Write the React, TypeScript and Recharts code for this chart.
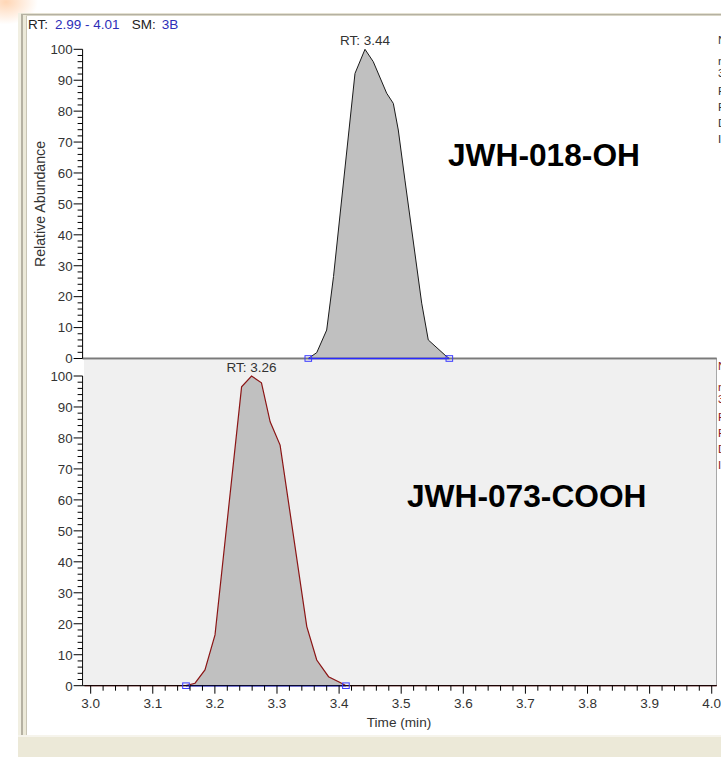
import React from 'react';
import {
  ComposedChart,
  Area,
  Line,
  XAxis,
  YAxis,
  ReferenceLine,
  ReferenceDot,
} from 'recharts';

const FONT = '"Liberation Sans", Arial, sans-serif';

// JWH-018-OH trace (time in min, relative abundance %)
const topTimes = [3.3504, 3.364, 3.380, 3.391, 3.4256, 3.4417, 3.455, 3.4766, 3.4873, 3.4953, 3.506, 3.533, 3.5436, 3.5705, 3.5775];
const topAbund = [0, 1.9, 9.2, 26.5, 92.2, 100, 96, 85.8, 82.5, 73.9, 57.7, 17.9, 6.0, 1.1, 0];
const topBaseline = [3.3504, 3.5775];

// JWH-073-COOH trace
const botTimes = [2.99, 3.1535, 3.168, 3.184, 3.2002, 3.243, 3.259, 3.275, 3.289, 3.305, 3.348, 3.364, 3.383, 3.404, 3.411, 4.01];
const botAbund = [0, 0, 0.8, 5.1, 16.4, 96.5, 100, 97.8, 85.2, 77.7, 19.1, 8.3, 2.9, 0.8, 0, 0];
const botBaseline = [3.1535, 3.411];

const peakNames = ['JWH-018-OH', 'JWH-073-COOH'];
const rtLabels = ['RT: 3.44', 'RT: 3.26'];

const xLabels = ['3.0', '3.1', '3.2', '3.3', '3.4', '3.5', '3.6', '3.7', '3.8', '3.9', '4.0'];
const yLabels = [0, 10, 20, 30, 40, 50, 60, 70, 80, 90, 100];

// legend lines at the right edge, cut off by the window
const sideLines = ['NL: 3.71E5', 'm/z= 358.00-359.00', '3', 'F: + c ESI SRM', 'F', 'D', 'I'];
const sideOffsets = [0, 21, 33, 51, 67, 83, 99];

const xDomain = [2.987, 4.008];
const xTicks: number[] = [];
xLabels.forEach((l, i) => {
  const v = parseFloat(l);
  xTicks.push(v);
  if (i < xLabels.length - 1) for (let k = 1; k < 5; k++) xTicks.push(+(v + k * 0.02).toFixed(2));
});
const yTicks: number[] = [];
yLabels.forEach((v, i) => {
  yTicks.push(v);
  if (i < yLabels.length - 1) for (let k = 1; k < 5; k++) yTicks.push(v + k * 2);
});

const topData = topTimes.map((t, i) => ({ t, v: topAbund[i] }));
const botData = botTimes.map((t, i) => ({ t, v: botAbund[i] }));
const topBase = topBaseline.map((t) => ({ t, b: 0 }));
const botBase = botBaseline.map((t) => ({ t, b: 0 }));

const apex = (d: { t: number; v: number }[]) => d.reduce((a, b) => (b.v > a.v ? b : a));

const YTick = (props: any) => {
  const { x, y, payload } = props;
  const major = payload.value % 10 === 0;
  const ax = x + 10;
  return (
    <g>
      <line x1={ax - (major ? 9 : 5)} x2={ax} y1={y} y2={y} stroke="#000" />
      {major && (
        <text x={x} y={y} dy={4.8} textAnchor="end" fontSize={13.3} fill="#333" fontFamily={FONT}>
          {payload.value}
        </text>
      )}
    </g>
  );
};

const XTick = (props: any) => {
  const { x, y, index } = props;
  const major = index % 5 === 0;
  const ay = y - 10;
  return (
    <g>
      <line x1={x} x2={x} y1={ay} y2={ay + (major ? 8 : 5)} stroke="#000" />
      {major && (
        <text x={x} y={ay + 22} textAnchor="middle" fontSize={13.5} fill="#333" fontFamily={FONT}>
          {xLabels[index / 5]}
        </text>
      )}
    </g>
  );
};

const SquareDot = (props: any) => {
  const { cx, cy } = props;
  return <rect x={cx - 3.3} y={cy - 2.8} width={6.6} height={5.6} fill="none" stroke="#3a3aff" strokeWidth={1} />;
};

export default function App() {
  const topApex = apex(topData);
  const botApex = apex(botData);
  return (
    <div
      style={{
        position: 'absolute',
        left: 0,
        top: 0,
        width: 721,
        height: 757,
        overflow: 'hidden',
        background: '#fff',
        fontFamily: FONT,
      }}
    >
      {/* window chrome */}
      <div
        style={{
          position: 'absolute', left: 0, top: 0, width: 60, height: 40,
          background: 'radial-gradient(ellipse at 6px 2px, rgba(255,180,120,0.55), rgba(255,255,255,0) 32px)',
        }}
      />
      <div style={{ position: 'absolute', left: 18, top: 13, width: 3, height: 724, background: '#F1EFE2' }} />
      <div style={{ position: 'absolute', left: 21, top: 13, width: 2, height: 724, background: '#B5B1A2' }} />
      <div style={{ position: 'absolute', left: 23, top: 13, width: 3, height: 724, background: '#ECE9D8' }} />
      <div style={{ position: 'absolute', left: 26, top: 15, width: 1, height: 722, background: '#C9C5B5' }} />
      <div style={{ position: 'absolute', left: 21, top: 13, width: 700, height: 1, background: '#E4E1D2' }} />
      <div style={{ position: 'absolute', left: 21, top: 14, width: 700, height: 1, background: '#B5B1A2' }} />
      <div style={{ position: 'absolute', left: 26, top: 15, width: 695, height: 1, background: '#D8D5C6' }} />
      <div style={{ position: 'absolute', left: 18, top: 735, width: 703, height: 2, background: '#F6F4EC' }} />
      <div style={{ position: 'absolute', left: 18, top: 737, width: 703, height: 20, background: '#ECE9D8' }} />

      {/* lower panel background */}
      <div style={{ position: 'absolute', left: 84, top: 359.5, width: 631.7, height: 326.5, background: '#F0F0F0' }} />
      <div style={{ position: 'absolute', left: 715.5, top: 358, width: 1, height: 328, background: '#A8A8A8' }} />

      <div style={{ position: 'absolute', left: 0, top: 0 }}>
        <ComposedChart width={721} height={372} data={topData} margin={{ top: 49.3, right: 4.3, bottom: 13.5, left: 0 }}>
          <XAxis type="number" dataKey="t" domain={xDomain} hide allowDataOverflow />
          <YAxis
            type="number"
            domain={[0, 100]}
            ticks={yTicks}
            interval={0}
            width={82.6}
            tickSize={9}
            tickMargin={1}
            tickLine={false}
            axisLine={{ stroke: '#000' }}
            tick={<YTick />}
          />
          <ReferenceLine y={0} stroke="#7a7a7a" strokeWidth={2} />
          <Area
            type="linear"
            dataKey="v"
            stroke="#1a1a1a"
            strokeWidth={1}
            fill="#C0C0C0"
            fillOpacity={1}
            dot={false}
            activeDot={false}
            isAnimationActive={false}
          />
          <Line
            data={topBase}
            dataKey="b"
            stroke="#2a2aff"
            strokeWidth={1.5}
            dot={<SquareDot />}
            activeDot={false}
            isAnimationActive={false}
          />
          <ReferenceDot
            x={topApex.t}
            y={topApex.v}
            r={0}
            label={{ value: rtLabels[0], position: 'top', offset: 4, fontSize: 13.5, fill: '#333', fontFamily: FONT }}
          />
        </ComposedChart>
      </div>

      <div style={{ position: 'absolute', left: 0, top: 350 }}>
        <ComposedChart width={721} height={407} data={botData} margin={{ top: 26, right: 4.3, bottom: 31.3, left: 0 }}>
          <XAxis
            type="number"
            dataKey="t"
            domain={xDomain}
            allowDataOverflow
            ticks={xTicks}
            interval={0}
            height={40}
            tickSize={8}
            tickMargin={2}
            tickLine={false}
            axisLine={{ stroke: '#000' }}
            tick={<XTick />}
          />
          <YAxis
            type="number"
            domain={[0, 100]}
            ticks={yTicks}
            interval={0}
            width={82.6}
            tickSize={9}
            tickMargin={1}
            tickLine={false}
            axisLine={{ stroke: '#000' }}
            tick={<YTick />}
          />
          <Area
            type="linear"
            dataKey="v"
            stroke="#8B1515"
            strokeWidth={1.2}
            fill="#C0C0C0"
            fillOpacity={1}
            dot={false}
            activeDot={false}
            isAnimationActive={false}
          />
          <Line
            data={botBase}
            dataKey="b"
            stroke="#2a2aff"
            strokeWidth={1.5}
            dot={<SquareDot />}
            activeDot={false}
            isAnimationActive={false}
          />
          <ReferenceDot
            x={botApex.t}
            y={botApex.v}
            r={0}
            label={{ value: rtLabels[1], position: 'top', offset: 4, fontSize: 13.5, fill: '#333', fontFamily: FONT }}
          />
        </ComposedChart>
      </div>

      {/* text overlay */}
      <svg width={721} height={757} style={{ position: 'absolute', left: 0, top: 0, pointerEvents: 'none' }} fontFamily={FONT}>
        <text x={28} y={28.8} fontSize={13.5} fill="#222">RT:</text>
        <text x={55} y={28.8} fontSize={13.5} fill="#2E2EB8">2.99 - 4.01</text>
        <text x={131.7} y={28.8} fontSize={13.5} fill="#222">SM:</text>
        <text x={161.7} y={28.8} fontSize={13.5} fill="#2E2EB8">3B</text>

        <text x={0} y={0} fontSize={14.2} fill="#333" textAnchor="middle" transform="translate(45 204) rotate(-90)">
          Relative Abundance
        </text>
        <text x={399} y={726.5} fontSize={13.6} fill="#333" textAnchor="middle">Time (min)</text>

        <text x={448} y={166} fontSize={31.7} fontWeight="bold" fill="#000">{peakNames[0]}</text>
        <text x={407} y={507} fontSize={31.7} fontWeight="bold" fill="#000">{peakNames[1]}</text>

        {sideLines.map((s, i) => (
          <text key={`a${i}`} x={718} y={43.5 + sideOffsets[i]} fontSize={11.5} fill="#333">{s}</text>
        ))}
        {sideLines.map((s, i) => (
          <text key={`b${i}`} x={718} y={369.5 + sideOffsets[i]} fontSize={11.5} fill="#8B1A1A">{s}</text>
        ))}
      </svg>
    </div>
  );
}
